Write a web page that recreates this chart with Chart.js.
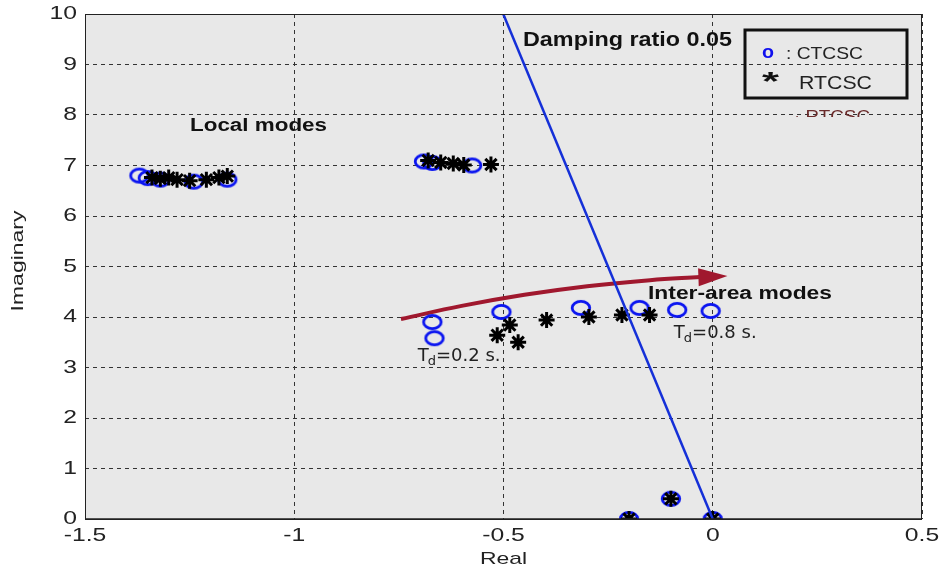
<!DOCTYPE html>
<html>
<head>
<meta charset="utf-8">
<script src="https://cdn.jsdelivr.net/npm/chart.js@4.4.0/dist/chart.umd.min.js"></script>
<style>
  body { margin: 0; background: #fff; }
  canvas { display: block; }
</style>
</head>
<body>
<canvas id="myChart" width="940" height="573"></canvas>
<script>
// eigenvalues (real, imaginary)
var ctcscRe = [-1.37, -1.35, -1.32, -1.24, -1.16, -0.69, -0.67, -0.575, -0.67, -0.665, -0.505, -0.315, -0.175, -0.085, -0.005, -0.2, -0.1, 0.0];
var ctcscIm = [6.80, 6.75, 6.72, 6.68, 6.72, 7.08, 7.05, 7.00, 3.90, 3.58, 4.10, 4.18, 4.18, 4.14, 4.12, 0.0, 0.40, 0.0];
var rtcscRe = [-1.34, -1.32, -1.30, -1.28, -1.25, -1.21, -1.18, -1.16, -0.68, -0.65, -0.62, -0.595, -0.53, -0.515, -0.485, -0.465, -0.397, -0.296, -0.217, -0.151, -0.2, -0.1, 0.0];
var rtcscIm = [6.76, 6.74, 6.76, 6.72, 6.70, 6.72, 6.76, 6.79, 7.10, 7.06, 7.04, 7.01, 7.02, 3.64, 3.84, 3.50, 3.94, 4.00, 4.04, 4.04, 0.0, 0.40, 0.0];

// damping ratio line and the trend arrow
var dampRe = [0, -0.5006];
var dampIm = [0, 10];
var arrowRe = [-0.745, -0.6, -0.45, -0.3, -0.15, -0.03];
var arrowIm = [3.96, 4.22, 4.44, 4.61, 4.73, 4.79];
var arrowTip = [0.035, 4.81];

var xTicks = [-1.5, -1, -0.5, 0, 0.5];
var yTicks = [0, 1, 2, 3, 4, 5, 6, 7, 8, 9, 10];

var SANS = "'Liberation Sans', Arial, sans-serif";

function toPoints(xs, ys) {
  var out = [];
  for (var i = 0; i < xs.length; i++) out.push({ x: xs[i], y: ys[i] });
  return out;
}

// matlab-ish ellipse marker (the picture is stretched sideways)
function ringMarker() {
  var cv = document.createElement("canvas");
  cv.width = 24; cv.height = 18;
  var g = cv.getContext("2d");
  g.strokeStyle = "#0a14f0";
  g.lineWidth = 2.8;
  g.beginPath();
  g.ellipse(12, 9, 8.8, 6.6, 0, 0, Math.PI * 2);
  g.stroke();
  return cv;
}

// draw text squeezed/stretched in x
function txt(c, s, x, y, font, sx, align) {
  c.save();
  c.font = font;
  c.textBaseline = "middle";
  c.textAlign = "left";
  var w = c.measureText(s).width * sx;
  var x0 = align === "right" ? x - w : align === "center" ? x - w / 2 : x;
  c.translate(x0, y);
  c.scale(sx, 1);
  c.fillText(s, 0, 0);
  c.restore();
}
function txtW(c, s, x, y, font, width) {
  c.save();
  c.font = font;
  var sx = width / c.measureText(s).width;
  c.restore();
  txt(c, s, x, y, font, sx, "left");
}

var decor = {
  id: "decor",
  beforeDraw: function(chart) {
    var c = chart.ctx, a = chart.chartArea;
    c.save();
    c.fillStyle = "#ffffff";
    c.fillRect(0, 0, chart.width, chart.height);
    c.fillStyle = "#e8e8e8";
    c.fillRect(a.left, a.top, a.right - a.left, a.bottom - a.top);
    c.restore();
  },
  afterDraw: function(chart) {
    var c = chart.ctx, a = chart.chartArea;
    var sx = chart.scales.x, sy = chart.scales.y;
    c.save();
    // frame
    c.strokeStyle = "#222";
    c.lineWidth = 1;
    c.strokeRect(a.left + 0.5, a.top + 0.5, a.right - a.left - 1, a.bottom - a.top);
    c.lineWidth = 1.5;
    c.beginPath();
    c.moveTo(a.left, a.bottom);
    c.lineTo(a.right, a.bottom);
    c.stroke();

    // tick labels
    c.fillStyle = "#222";
    yTicks.forEach(function(v) {
      txt(c, String(v), a.left - 8, sy.getPixelForValue(v), "19px " + SANS, 1.3, "right");
    });
    xTicks.forEach(function(v) {
      txt(c, String(v), sx.getPixelForValue(v), 536, "19px " + SANS, 1.3, "center");
    });
    // axis titles
    txt(c, "Real", (a.left + a.right) / 2, 559, "17px " + SANS, 1.35, "center");
    c.save();
    c.translate(18, 261);
    c.rotate(-Math.PI / 2);
    txt(c, "Imaginary", 0, 0, "17px " + SANS, 1.35, "center");
    c.restore();

    // arrow head
    var n = arrowRe.length - 1;
    var bx = sx.getPixelForValue(arrowRe[n]), by = sy.getPixelForValue(arrowIm[n]);
    var tx = sx.getPixelForValue(arrowTip[0]), ty = sy.getPixelForValue(arrowTip[1]);
    var ang = Math.atan2(ty - by, tx - bx);
    c.fillStyle = "#a0182e";
    c.beginPath();
    c.moveTo(tx, ty);
    c.lineTo(tx - 29 * Math.cos(ang) + 9 * Math.sin(ang), ty - 29 * Math.sin(ang) - 9 * Math.cos(ang));
    c.lineTo(tx - 29 * Math.cos(ang) - 9 * Math.sin(ang), ty - 29 * Math.sin(ang) + 9 * Math.cos(ang));
    c.closePath();
    c.fill();

    // annotations
    c.fillStyle = "#111";
    txtW(c, "Damping ratio 0.05", 523, 40, "bold 20px " + SANS, 209);
    txtW(c, "Local modes", 190, 126, "bold 18px " + SANS, 137);
    txtW(c, "Inter-area modes", 648, 294, "bold 18px " + SANS, 184);

    function td(label, xv, yv) {
      var x = sx.getPixelForValue(xv), y = sy.getPixelForValue(yv);
      c.fillStyle = "#222";
      c.textBaseline = "middle";
      c.textAlign = "left";
      c.font = "18px 'DejaVu Sans', sans-serif";
      c.fillText("T", x, y);
      var w = c.measureText("T").width;
      c.font = "13px 'DejaVu Sans', sans-serif";
      c.fillText("d", x + w - 1, y + 5);
      var w2 = c.measureText("d").width;
      c.font = "18px 'DejaVu Sans', sans-serif";
      c.fillText(label, x + w + w2 - 1, y);
    }
    td("=0.2 s.", -0.705, 3.22);
    td("=0.8 s.", -0.093, 3.67);

    // legend box
    c.strokeStyle = "#111";
    c.lineWidth = 3;
    c.strokeRect(745, 30, 162, 68);
    c.fillStyle = "#1010ee";
    txtW(c, "o", 762, 53, "bold 19px " + SANS, 12);
    c.fillStyle = "#222";
    txtW(c, ": CTCSC", 786, 54, "17px " + SANS, 77);
    c.fillStyle = "#111";
    txtW(c, "*", 762, 83, "bold 26px " + SANS, 17);
    c.fillStyle = "#222";
    txtW(c, "RTCSC", 799, 84, "19px " + SANS, 73);

    // clipped leftover label under the legend
    c.beginPath();
    c.rect(790, 106, 100, 11);
    c.clip();
    c.fillStyle = "#6a2a2a";
    txtW(c, "· RTCSC", 794, 118, "16px " + SANS, 76);
    c.restore();
  }
};

var ctx = document.getElementById("myChart").getContext("2d");
var chart = new Chart(ctx, {
  type: "scatter",
  data: {
    datasets: [
      {
        label: "Damping ratio 0.05",
        data: toPoints(dampRe, dampIm),
        showLine: true,
        borderColor: "#1530d8",
        borderWidth: 2.5,
        pointRadius: 0
      },
      {
        label: "RTCSC",
        data: toPoints(rtcscRe, rtcscIm),
        pointStyle: "star",
        pointRadius: 8,
        borderColor: "#000",
        backgroundColor: "#000",
        borderWidth: 3
      },
      {
        label: "CTCSC",
        data: toPoints(ctcscRe, ctcscIm),
        pointStyle: ringMarker(),
        pointRadius: 9
      },
      {
        label: "trend",
        data: toPoints(arrowRe, arrowIm),
        showLine: true,
        tension: 0.4,
        borderColor: "#a0182e",
        borderWidth: 4,
        pointRadius: 0
      }
    ]
  },
  options: {
    responsive: false,
    animation: false,
    layout: { padding: { left: 0, right: 18, top: 14, bottom: 0 } },
    plugins: { legend: { display: false }, tooltip: { enabled: false } },
    scales: {
      x: {
        type: "linear",
        min: -1.5,
        max: 0.5,
        afterBuildTicks: function(s) { s.ticks = xTicks.map(function(v) { return { value: v }; }); },
        afterFit: function(s) { s.height = 54; },
        ticks: { display: false, autoSkip: false },
        grid: { color: "#333", lineWidth: 1, drawTicks: false },
        border: { display: false, dash: [4, 4] }
      },
      y: {
        type: "linear",
        min: 0,
        max: 10,
        afterBuildTicks: function(s) { s.ticks = yTicks.map(function(v) { return { value: v }; }); },
        afterFit: function(s) { s.width = 85; },
        ticks: { display: false, autoSkip: false },
        grid: { color: "#333", lineWidth: 1, drawTicks: false },
        border: { display: false, dash: [4, 4] }
      }
    }
  },
  plugins: [decor]
});
</script>
</body>
</html>
